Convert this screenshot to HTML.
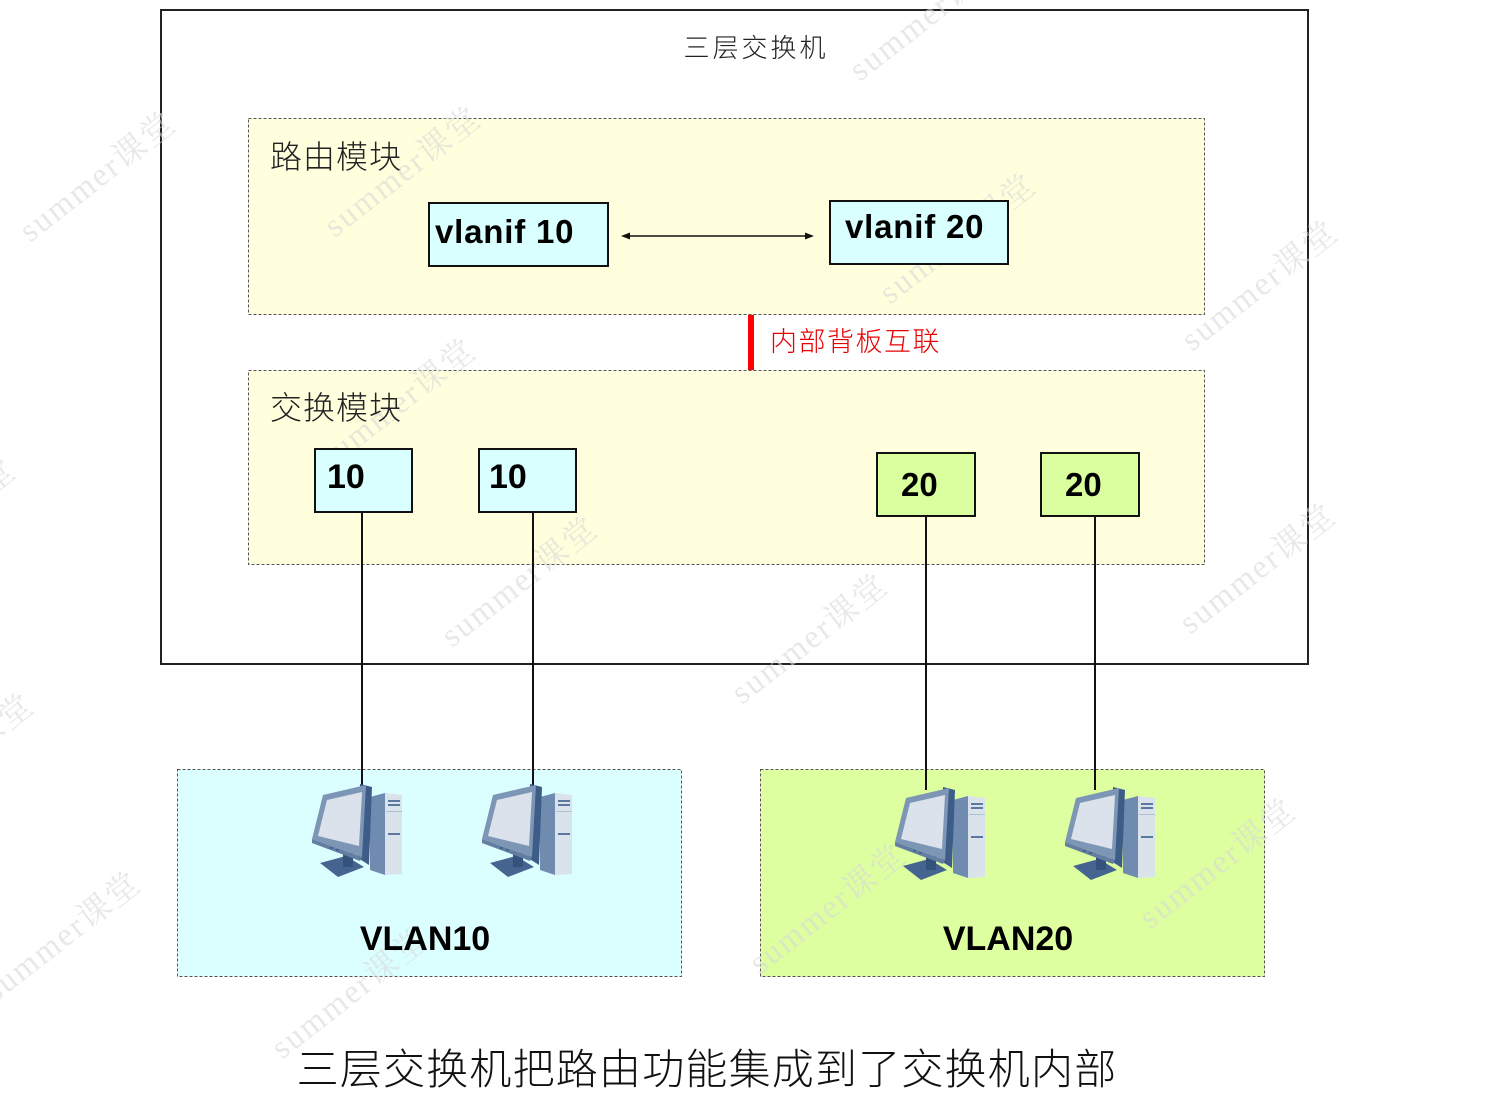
<!DOCTYPE html>
<html>
<head>
<meta charset="utf-8">
<style>
  html, body { margin:0; padding:0; background:#ffffff; }
  body { width:1509px; height:1094px; overflow:hidden; position:relative; }
  svg { position:absolute; left:0; top:0; }
  .cjk { font-family: "Liberation Sans", "Noto Sans CJK SC", sans-serif; }
  .thin { font-weight:300; }
  .bold { font-family: "Liberation Sans", "DejaVu Sans", sans-serif; font-weight:bold; }
  .wm { font-family: "Liberation Serif", "Noto Serif CJK SC", serif; font-size:33px; letter-spacing:2px; fill:#d9d9d9; fill-opacity:0.6; }
</style>
</head>
<body>
<svg width="1509" height="1094" viewBox="0 0 1509 1094" xmlns="http://www.w3.org/2000/svg">
  <defs>
    <g id="pc">
      <!-- tower -->
      <polygon points="70,22 85,18 85,100 70,95" fill="#6f8bb0"/>
      <polygon points="85,18 102,20 102,99 85,100" fill="#dae2ec"/>
      <rect x="88" y="25" width="12" height="2" fill="#5a78a0"/>
      <rect x="88" y="29" width="12" height="2" fill="#5a78a0"/>
      <rect x="86" y="36" width="16" height="1" fill="#b0bfd2"/>
      <rect x="88" y="58" width="12" height="2" fill="#5a78a0"/>
      <!-- monitor back -->
      <polygon points="60,9 72,12 69,90 58,83" fill="#3d5d88"/>
      <!-- stand -->
      <polygon points="20,88 46,81 64,92 38,102" fill="#456590"/>
      <rect x="43" y="78" width="10" height="14" fill="#34527c"/>
      <!-- bezel -->
      <polygon points="23,20 66,10 62,82 12,64" fill="#7e96b6"/>
      <polygon points="12,64 62,82 60,86 12,68" fill="#647ea2"/>
      <!-- screen -->
      <polygon points="27,25 62,17 59,71 18,61" fill="#dbe2ec"/>
      <rect x="30" y="72" width="3" height="2" fill="#456590"/>
      <rect x="36" y="74" width="3" height="2" fill="#456590"/>
    </g>
  </defs>

  <!-- outer switch box -->
  <rect x="161" y="10" width="1147" height="654" fill="#ffffff" stroke="#222" stroke-width="2"/>

  <!-- routing module -->
  <rect x="248.5" y="118.5" width="956" height="196" fill="#ffffdd" stroke="#555" stroke-width="1" stroke-dasharray="3,2"/>
  <!-- switching module -->
  <rect x="248.5" y="370.5" width="956" height="194" fill="#ffffdd" stroke="#555" stroke-width="1" stroke-dasharray="3,2"/>

  <!-- VLAN areas -->
  <rect x="177.5" y="769.5" width="504" height="207" fill="#dbffff" stroke="#555" stroke-width="1" stroke-dasharray="3,2"/>
  <rect x="760.5" y="769.5" width="504" height="207" fill="#ddff9f" stroke="#555" stroke-width="1" stroke-dasharray="3,2"/>

  <!-- watermarks -->
  <g class="wm">
    <text transform="translate(30,243) rotate(-38)">summer课堂</text>
    <text transform="translate(335,238) rotate(-38)">summer课堂</text>
    <text transform="translate(860,82) rotate(-38)">summer课堂</text>
    <text transform="translate(890,305) rotate(-38)">summer课堂</text>
    <text transform="translate(1192,352) rotate(-38)">summer课堂</text>
    <text transform="translate(330,470) rotate(-38)">summer课堂</text>
    <text transform="translate(452,648) rotate(-38)">summer课堂</text>
    <text transform="translate(742,705) rotate(-38)">summer课堂</text>
    <text transform="translate(1190,635) rotate(-38)">summer课堂</text>
    <text transform="translate(-112,825) rotate(-38)">summer课堂</text>
    <text transform="translate(-5,1003) rotate(-38)">summer课堂</text>
    <text transform="translate(282,1060) rotate(-38)">summer课堂</text>
    <text transform="translate(760,975) rotate(-38)">summer课堂</text>
    <text transform="translate(1150,930) rotate(-38)">summer课堂</text>
    <text transform="translate(-130,590) rotate(-38)">summer课堂</text>
  </g>

  <!-- title -->
  <text class="cjk thin" x="756" y="57" font-size="26" letter-spacing="3" text-anchor="middle" fill="#222">三层交换机</text>

  <!-- module labels -->
  <text class="cjk thin" x="270" y="168" font-size="32" letter-spacing="1" fill="#222">路由模块</text>
  <text class="cjk thin" x="270" y="419" font-size="32" letter-spacing="1" fill="#222">交换模块</text>

  <!-- vlanif boxes -->
  <rect x="429" y="203" width="179" height="63" fill="#d9ffff" stroke="#111" stroke-width="2"/>
  <text class="bold" x="435" y="243" font-size="33" letter-spacing="0.8" fill="#000">vlanif 10</text>
  <rect x="830" y="201" width="178" height="63" fill="#d9ffff" stroke="#111" stroke-width="2"/>
  <text class="bold" x="845" y="238" font-size="33" letter-spacing="0.8" fill="#000">vlanif 20</text>

  <!-- double arrow -->
  <line x1="626" y1="236" x2="809" y2="236" stroke="#111" stroke-width="1.5"/>
  <polygon points="621,236 630,232.5 630,239.5" fill="#111"/>
  <polygon points="814,236 805,232.5 805,239.5" fill="#111"/>

  <!-- backplane link -->
  <rect x="748" y="315" width="6" height="55" fill="#ff0000"/>
  <text class="cjk thin" x="770" y="351" font-size="27" letter-spacing="1.5" fill="#e60000">内部背板互联</text>

  <!-- connector lines -->
  <line x1="362" y1="512" x2="362" y2="786" stroke="#111" stroke-width="2"/>
  <line x1="533" y1="512" x2="533" y2="786" stroke="#111" stroke-width="2"/>
  <line x1="926" y1="516" x2="926" y2="790" stroke="#111" stroke-width="2"/>
  <line x1="1095" y1="516" x2="1095" y2="790" stroke="#111" stroke-width="2"/>

  <!-- port boxes -->
  <rect x="315" y="449" width="97" height="63" fill="#d9ffff" stroke="#111" stroke-width="2"/>
  <text class="bold" x="327" y="488" font-size="34" fill="#000">10</text>
  <rect x="479" y="449" width="97" height="63" fill="#d9ffff" stroke="#111" stroke-width="2"/>
  <text class="bold" x="489" y="488" font-size="34" fill="#000">10</text>
  <rect x="877" y="453" width="98" height="63" fill="#d9ff9f" stroke="#111" stroke-width="2"/>
  <text class="bold" x="901" y="496" font-size="33" fill="#000">20</text>
  <rect x="1041" y="453" width="98" height="63" fill="#d9ff9f" stroke="#111" stroke-width="2"/>
  <text class="bold" x="1065" y="496" font-size="33" fill="#000">20</text>

  <!-- PCs -->
  <use href="#pc" x="300" y="775"/>
  <use href="#pc" x="470" y="775"/>
  <use href="#pc" x="883" y="778"/>
  <use href="#pc" x="1053" y="778"/>

  <!-- VLAN labels -->
  <text class="bold" x="425" y="950" font-size="34" text-anchor="middle" fill="#000">VLAN10</text>
  <text class="bold" x="1008" y="950" font-size="34" text-anchor="middle" fill="#000">VLAN20</text>

  <!-- caption -->
  <text class="cjk thin" x="707" y="1084" font-size="42" letter-spacing="1.2" text-anchor="middle" fill="#111">三层交换机把路由功能集成到了交换机内部</text>
</svg>
</body>
</html>
